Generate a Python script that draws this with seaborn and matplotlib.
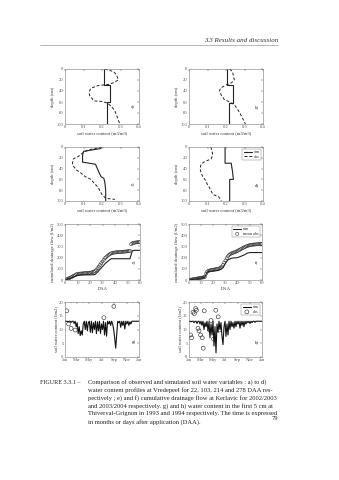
import matplotlib
matplotlib.use("Agg")
import matplotlib.pyplot as plt
from matplotlib.lines import Line2D
import seaborn as sns

# ---------------- data ----------------
# a) - d): water content profiles (theta, depth)
a_sim_theta = [0.21, 0.21, 0.245, 0.245, 0.228, 0.228]
a_sim_depth = [0, 29, 29, 60, 60, 100]
a_obs_theta = [0.215, 0.265, 0.28, 0.288, 0.262, 0.235, 0.18, 0.14, 0.13, 0.133, 0.145, 0.155, 0.2, 0.23, 0.25, 0.268, 0.28, 0.29, 0.3]
a_obs_depth = [0, 5, 12, 20, 25, 28, 30, 35, 42, 48, 53, 58, 59, 62, 68, 75, 85, 95, 100]

b_sim_theta = [0.208, 0.208, 0.24, 0.24, 0.218, 0.218]
b_sim_depth = [0, 29, 29, 61, 61, 100]
b_obs_theta = [0.22, 0.235, 0.24, 0.245, 0.23, 0.2, 0.17, 0.165, 0.175, 0.19, 0.22, 0.245, 0.26, 0.275, 0.29, 0.305]
b_obs_depth = [0, 5, 12, 20, 25, 29, 35, 40, 48, 55, 60, 65, 72, 80, 90, 100]

c_sim_theta = [0.2, 0.19, 0.1, 0.095, 0.095, 0.13, 0.165, 0.175, 0.185, 0.195, 0.21, 0.215, 0.22, 0.22]
c_sim_depth = [0, 3, 8, 15, 28, 30, 32, 40, 48, 55, 58, 65, 80, 100]
c_obs_theta = [0.2, 0.13, 0.1, 0.07, 0.045, 0.04, 0.045, 0.06, 0.085, 0.11, 0.14, 0.16, 0.18, 0.19, 0.2, 0.22, 0.27]
c_obs_depth = [0, 5, 10, 18, 22, 30, 35, 42, 48, 55, 60, 68, 75, 82, 88, 95, 97]

d_sim_theta = [0.195, 0.195, 0.228, 0.235, 0.24, 0.22, 0.22]
d_sim_depth = [0, 30, 30, 45, 60, 60, 100]
d_obs_theta = [0.118, 0.125, 0.128, 0.12, 0.08, 0.065, 0.06, 0.065, 0.075, 0.09, 0.1, 0.11, 0.12, 0.13, 0.16, 0.175]
d_obs_depth = [0, 8, 15, 22, 28, 32, 40, 48, 55, 62, 70, 75, 82, 88, 92, 100]

# e) - f): cumulated drainage flow
e_sim_daa = [0, 2, 5, 8, 10, 12, 15, 20, 23, 24, 26, 28, 30, 32, 34, 36, 37, 40, 45, 50, 52, 53, 54, 56, 60]
e_sim_flow = [0, 8, 20, 32, 40, 44, 45, 46, 47, 50, 70, 95, 120, 145, 165, 182, 190, 190, 190, 190, 190, 230, 262, 265, 265]
e_obs_daa = list(range(0, 61))
e_obs_flow = [0, 5, 10, 15, 20, 25, 32, 38, 44, 50, 54, 56, 57, 58, 59, 60, 61, 62, 63, 64,
              65, 67, 70, 75, 80, 90, 105, 120, 135, 150, 165, 180, 195, 205, 215, 225, 232, 238, 242, 244,
              246, 247, 248, 249, 250, 251, 252, 253, 254, 255, 256, 257, 260, 320, 328, 332, 334, 336, 337, 338, 340]

f_sim_daa = [0, 3, 6, 10, 13, 14, 15, 17, 20, 24, 26, 28, 30, 32, 35, 38, 40, 45, 48, 50, 60]
f_sim_flow = [0, 5, 10, 18, 25, 50, 72, 78, 80, 85, 95, 110, 150, 180, 195, 198, 200, 222, 240, 245, 245]
f_obs_daa = list(range(0, 61))
f_obs_flow = [0, 2, 4, 6, 8, 10, 12, 14, 16, 18, 20, 22, 24, 28, 55, 75, 82, 85, 88, 90,
              92, 94, 96, 98, 100, 104, 110, 120, 135, 155, 175, 195, 212, 225, 232, 238, 242, 246, 250, 255,
              260, 266, 272, 278, 284, 290, 295, 300, 304, 308, 311, 313, 315, 316, 317, 318, 319, 320, 321, 322, 323]

# g) - h): water content in the first 5 cm (day of year)
g_sim_day = list(range(0, 366, 5))
g_sim_wc = [13, 13, 13, 12.8, 13, 13, 12.6, 13, 13, 12.2, 13, 11, 12.5, 8.5, 11, 7.8, 9.5, 8, 12, 13,
            10, 13, 9.5, 12.5, 13, 9, 13, 8.8, 12.5, 10, 13, 8.5, 12.8, 9.5, 13, 8.6, 12, 10, 13, 8,
            12.5, 7.6, 13, 12, 13, 11.5, 13, 12, 10, 7, 3.2, 8, 13, 12.5, 13, 10.8, 13, 11.5, 13, 10.2,
            13, 12, 13, 11.5, 12.8, 12, 13, 13, 13, 13, 13, 13, 13, 13]
g_obs_day = [8, 18, 30, 50, 192, 241]
g_obs_wc = [16.8, 12.0, 10.4, 9.8, 14.3, 18.4]

h_sim_day = list(range(0, 366, 5))
h_sim_wc = [13, 13, 12.8, 13, 13, 12.5, 13, 13, 12.2, 13, 13, 12, 13, 11.5, 13, 10, 12.5, 11, 13, 9.5,
            12.8, 7, 12, 8, 13, 4, 11, 1.5, 12, 9, 13, 10, 12.5, 7.5, 4.5, 11, 13, 7.5, 12, 8,
            13, 10, 13, 11, 12.5, 10.5, 13, 11, 13, 12, 13, 10.5, 13, 11.5, 13, 11, 13, 12, 13, 12.5,
            13, 12.2, 13, 12.5, 13, 13, 12.6, 13, 13, 13, 13, 13, 13, 13]
h_obs_day = [8, 13, 20, 27, 33, 37, 45, 50, 58, 66, 71, 76, 104, 110, 123, 134, 146, 151]
h_obs_wc = [8.0, 7.0, 16.3, 15.8, 17.6, 17.0, 10.4, 9.5, 8.0, 7.0, 3.2, 16.8, 9.8, 13.3, 6.5, 17.0, 14.6, 9.8]

month_pos = [0, 59, 120, 181, 243, 304, 365]
month_lab = ["Jan", "Mar", "May", "Jul", "Sep", "Nov", "Jan"]
month_minor = [31, 90, 151, 212, 273, 334]

# ---------------- style ----------------
sns.set_theme(style="white")
plt.rcParams['font.family'] = ['Liberation Serif', 'DejaVu Serif']
plt.rcParams.update({
    "axes.edgecolor": "#777777",
    "axes.linewidth": 0.4,
    "xtick.direction": "in",
    "ytick.direction": "in",
    "xtick.major.size": 1.4,
    "ytick.major.size": 1.4,
    "xtick.minor.size": 0.9,
    "ytick.minor.size": 0.9,
    "xtick.major.width": 0.35,
    "ytick.major.width": 0.35,
    "xtick.minor.width": 0.3,
    "xtick.major.pad": 1.0,
    "ytick.major.pad": 1.0,
    "xtick.labelsize": 3.3,
    "ytick.labelsize": 3.3,
    "xtick.color": "#555555",
    "ytick.color": "#555555",
    "xtick.top": True,
    "ytick.right": True,
    "axes.labelsize": 3.3,
    "axes.labelpad": 1.0,
    "axes.labelcolor": "#333333",
    "text.color": "#222222",
})

W, H = 339, 480
fig = plt.figure(figsize=(W / 100, H / 100), dpi=100)
fig.patch.set_facecolor("white")


def px_axes(l, t, r, b):
    return fig.add_axes([l / W, 1 - b / H, (r - l) / W, (b - t) / H])


LW_SIM = 0.8
LW_OBS = 0.7


def add_legend(ax):
    leg = ax.legend(loc="upper right", fontsize=3.0, frameon=True, handlelength=2.0, borderpad=0.3,
                    labelspacing=0.15, handletextpad=0.4, borderaxespad=0.5, fancybox=False,
                    edgecolor="#555555")
    leg.get_frame().set_linewidth(0.3)


def profile(ax, st, sd, ot, od, letter, legend=False):
    sns.lineplot(x=st, y=sd, sort=False, estimator=None, color="#222222", lw=LW_SIM, ax=ax, label="sim" if legend else None)
    sns.lineplot(x=ot, y=od, sort=False, estimator=None, color="#222222", lw=LW_OBS, ax=ax,
                 linestyle=(0, (3, 2)), label="obs" if legend else None)
    ax.set_xlim(0, 0.4)
    ax.set_ylim(100, 0)
    ax.set_xticks([0, 0.1, 0.2, 0.3, 0.4])
    ax.set_xticklabels(["0", "0.1", "0.2", "0.3", "0.4"])
    ax.set_yticks([0, 20, 40, 60, 80, 100])
    ax.set_xlabel("soil water content (m3/m3)")
    ax.set_ylabel("depth (cm)")
    ax.text(0.92, 0.3, letter, transform=ax.transAxes, fontsize=3.5, ha="center", va="center")
    if legend:
        add_legend(ax)
    elif ax.get_legend() is not None:
        ax.get_legend().remove()


def drainage(ax, sd, sf, od, of, letter, legend=False):
    sns.lineplot(x=sd, y=sf, sort=False, estimator=None, color="#222222", lw=LW_SIM, ax=ax, label="sim" if legend else None)
    sns.scatterplot(x=od, y=of, marker="o", s=5, facecolor="none", edgecolor="#222222", linewidth=0.35,
                    ax=ax, label="mean obs" if legend else None)
    ax.set_xlim(0, 60)
    ax.set_ylim(0, 500)
    ax.set_xticks([0, 10, 20, 30, 40, 50, 60])
    ax.set_yticks([0, 100, 200, 300, 400, 500])
    ax.set_xlabel("DAA")
    ax.set_ylabel("cumulated drainage flow (l/m2)")
    ax.text(0.92, 0.3, letter, transform=ax.transAxes, fontsize=3.5, ha="center", va="center")
    if legend:
        add_legend(ax)
    elif ax.get_legend() is not None:
        ax.get_legend().remove()


def surface(ax, sd, sw, od, ow, letter, legend=False):
    sns.lineplot(x=sd, y=sw, sort=False, estimator=None, color="#111111", lw=LW_SIM, ax=ax, label="sim" if legend else None)
    sns.scatterplot(x=od, y=ow, marker="o", s=8, facecolor="none", edgecolor="#222222", linewidth=0.4,
                    ax=ax, label="obs" if legend else None)
    ax.set_xlim(0, 365)
    ax.set_ylim(0, 20)
    ax.set_xticks(month_pos)
    ax.set_xticklabels(month_lab)
    ax.set_xticks(month_minor, minor=True)
    ax.set_yticks([0, 5, 10, 15, 20])
    ax.set_xlabel("")
    ax.set_ylabel("soil water content (l/m2)")
    ax.text(0.93, 0.28, letter, transform=ax.transAxes, fontsize=3.5, ha="center", va="center")
    if legend:
        add_legend(ax)
    elif ax.get_legend() is not None:
        ax.get_legend().remove()


ax_a = px_axes(65, 69, 139, 124)
ax_b = px_axes(189, 69, 263, 124)
ax_c = px_axes(65, 147, 139, 201)
ax_d = px_axes(189, 147, 263, 201)
ax_e = px_axes(65, 224, 140, 280)
ax_f = px_axes(189, 224, 262, 280)
ax_g = px_axes(65, 302, 139, 357)
ax_h = px_axes(189, 302, 262, 357)

profile(ax_a, a_sim_theta, a_sim_depth, a_obs_theta, a_obs_depth, "a)")
profile(ax_b, b_sim_theta, b_sim_depth, b_obs_theta, b_obs_depth, "b)")
profile(ax_c, c_sim_theta, c_sim_depth, c_obs_theta, c_obs_depth, "c)")
profile(ax_d, d_sim_theta, d_sim_depth, d_obs_theta, d_obs_depth, "d)", legend=True)
drainage(ax_e, e_sim_daa, e_sim_flow, e_obs_daa, e_obs_flow, "e)")
drainage(ax_f, f_sim_daa, f_sim_flow, f_obs_daa, f_obs_flow, "f)", legend=True)
surface(ax_g, g_sim_day, g_sim_wc, g_obs_day, g_obs_wc, "g)")
surface(ax_h, h_sim_day, h_sim_wc, h_obs_day, h_obs_wc, "h)", legend=True)

# ---------------- page text ----------------
def fx(x):
    return x / W


def fy(y):
    return 1 - y / H


fig.text(fx(278), fy(41), "3.3 Results and discussion", ha="right", va="center",
         fontsize=5.0, style="italic", color="#333333")
fig.add_artist(Line2D([fx(40), fx(278)], [fy(45), fy(45)], color="#999999", lw=0.5))

cap_lines = [
    "Comparison of observed and simulated soil water variables : a) to d)",
    "water content profiles at Vredepeel for 22, 103, 214 and 278 DAA res-",
    "pectively ; e) and f) cumulative drainage flow at Kerlavic for 2002/2003",
    "and 2003/2004 respectively. g) and h) water content in the first 5 cm at",
    "Thiverval-Grignon in 1993 and 1994 respectively. The time is expressed",
    "in months or days after application (DAA).",
]
cap_y = [382, 390, 398, 406, 414, 422]
fig.text(fx(40), fy(cap_y[0]), "FIGURE 3.3.1 –", ha="left", va="center", fontsize=4.4, color="#222222")
for t, y in zip(cap_lines, cap_y):
    fig.text(fx(88), fy(y), t, ha="left", va="center", fontsize=4.7, color="#222222")
fig.text(fx(278), fy(418), "79", ha="right", va="center", fontsize=4.7, color="#222222")

fig.savefig("out.png", dpi=100, facecolor="white")
